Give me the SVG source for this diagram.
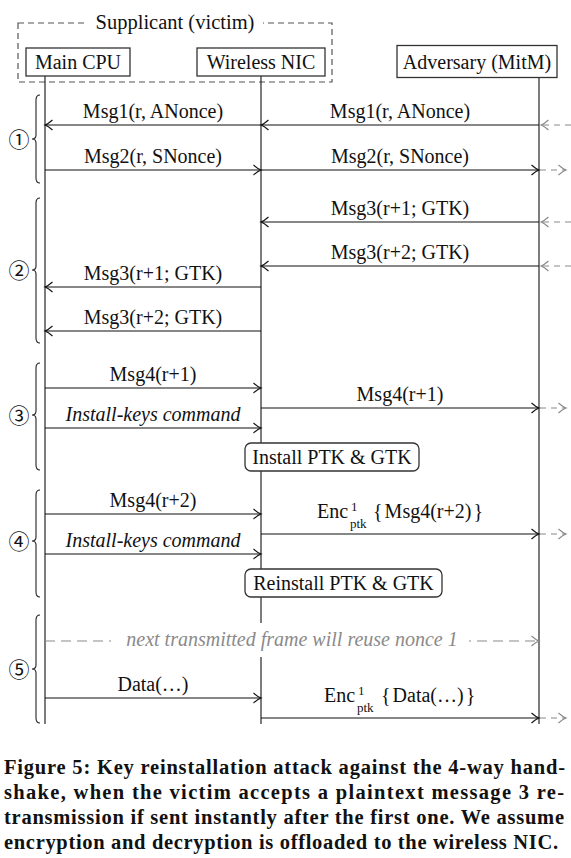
<svg xmlns="http://www.w3.org/2000/svg" width="571" height="858" viewBox="0 0 571 858">
<style>
text{font-family:"Liberation Serif","Times New Roman",serif;font-size:20px;fill:#111}
.c{text-anchor:middle}
.it{font-style:italic}
.box{fill:#fff;stroke:#333;stroke-width:1.3}
.life{stroke:#111;stroke-width:1.1;fill:none}
.msg{stroke:#111;stroke-width:1.1;fill:none;marker-end:url(#ah)}
.gmsg{stroke:#8a8a8a;stroke-width:1.1;fill:none;stroke-dasharray:6 5;marker-end:url(#gh)}
.brace{fill:none;stroke:#222;stroke-width:1.1}
.num{font-family:"Noto Sans CJK JP","DejaVu Sans",sans-serif;font-size:21px;text-anchor:middle}
.cap{font-weight:bold;font-size:20.5px}
.sm{font-size:13px}
</style>
<defs>
<marker id="ah" markerWidth="12" markerHeight="12" refX="10" refY="6" orient="auto" markerUnits="userSpaceOnUse" overflow="visible"><path d="M2.5 1 Q7 5 10 6 Q7 7 2.5 11" fill="none" stroke="#111" stroke-width="1.1"/></marker>
<marker id="gh" markerWidth="12" markerHeight="12" refX="10" refY="6" orient="auto" markerUnits="userSpaceOnUse" overflow="visible"><path d="M2.5 1 Q7 5 10 6 Q7 7 2.5 11" fill="none" stroke="#8a8a8a" stroke-width="1.1"/></marker>
</defs>
<rect width="571" height="858" fill="#fff"/>

<g id="supplicant">
<rect x="18" y="23" width="314" height="59" fill="none" stroke="#555" stroke-width="1.2" stroke-dasharray="6 4"/>
<rect x="88" y="10" width="175" height="24" fill="#fff"/>
<text class="c" x="175" y="29" style="font-size:20.5px">Supplicant (victim)</text>
</g>

<g id="lifelines">
<line class="life" x1="45" y1="76" x2="45" y2="724"/>
<line class="life" x1="261" y1="76" x2="261" y2="724"/>
<line class="life" x1="539" y1="78" x2="539" y2="724"/>
</g>

<g id="main-cpu"><rect class="box" x="26" y="48" width="104" height="28"/><text class="c" x="78" y="69">Main CPU</text></g>
<g id="wireless-nic"><rect class="box" x="197" y="48" width="128" height="28"/><text class="c" x="261" y="69">Wireless NIC</text></g>
<g id="adversary"><rect class="box" x="397" y="45.5" width="160" height="32"/><text class="c" x="477" y="69">Adversary (MitM)</text></g>

<g id="connectors">
<line class="gmsg" x1="571" y1="125" x2="541" y2="125"/>
<line class="msg" x1="539" y1="125" x2="261" y2="125"/>
<line class="msg" x1="261" y1="125" x2="45" y2="125"/>
<line class="msg" x1="45" y1="170" x2="261" y2="170"/>
<line class="msg" x1="261" y1="170" x2="539" y2="170"/>
<line class="gmsg" x1="540" y1="170" x2="566" y2="170"/>
<line class="gmsg" x1="571" y1="222" x2="541" y2="222"/>
<line class="msg" x1="539" y1="222" x2="261" y2="222"/>
<line class="gmsg" x1="571" y1="266" x2="541" y2="266"/>
<line class="msg" x1="539" y1="266" x2="261" y2="266"/>
<line class="msg" x1="261" y1="287" x2="45" y2="287"/>
<line class="msg" x1="261" y1="331" x2="45" y2="331"/>
<line class="msg" x1="45" y1="388" x2="261" y2="388"/>
<line class="msg" x1="261" y1="408" x2="539" y2="408"/>
<line class="gmsg" x1="540" y1="408" x2="566" y2="408"/>
<line class="msg" x1="45" y1="428" x2="261" y2="428"/>
<line class="msg" x1="45" y1="514" x2="261" y2="514"/>
<line class="msg" x1="261" y1="534" x2="539" y2="534"/>
<line class="gmsg" x1="540" y1="534" x2="566" y2="534"/>
<line class="msg" x1="45" y1="554" x2="261" y2="554"/>
<line class="gmsg" style="stroke-dasharray:10 6" x1="45" y1="641" x2="539" y2="641"/>
<line class="msg" x1="45" y1="698" x2="261" y2="698"/>
<line class="msg" x1="261" y1="718" x2="539" y2="718"/>
<line class="gmsg" x1="540" y1="718" x2="566" y2="718"/>
</g>

<g id="labels">
<text class="c" x="153" y="118">Msg1(r, ANonce)</text>
<text class="c" x="400" y="118">Msg1(r, ANonce)</text>
<text class="c" x="153" y="163">Msg2(r, SNonce)</text>
<text class="c" x="400" y="163">Msg2(r, SNonce)</text>
<text class="c" x="400" y="215">Msg3(r+1; GTK)</text>
<text class="c" x="400" y="259">Msg3(r+2; GTK)</text>
<text class="c" x="153" y="280">Msg3(r+1; GTK)</text>
<text class="c" x="153" y="324">Msg3(r+2; GTK)</text>
<text class="c" x="153" y="381">Msg4(r+1)</text>
<text class="c" x="400" y="401">Msg4(r+1)</text>
<text class="c it" x="153" y="421">Install-keys command</text>
<text class="c" x="153" y="507">Msg4(r+2)</text>
<text x="317" y="518">Enc</text>
<text class="sm" x="351" y="511">1</text>
<text class="sm" x="350" y="528">ptk</text>
<text x="373" y="518" word-spacing="-3">{ Msg4(r+2) }</text>
<text class="c it" x="153" y="547">Install-keys command</text>
<text class="c" x="153" y="691">Data(…)</text>
<text x="324" y="702">Enc</text>
<text class="sm" x="358" y="695">1</text>
<text class="sm" x="357" y="712">ptk</text>
<text x="381" y="702" word-spacing="-3">{ Data(…) }</text>
</g>

<g id="install-box"><rect class="box" x="245" y="443" width="174" height="28" rx="6"/><text class="c" x="332" y="464">Install PTK &amp; GTK</text></g>
<g id="reinstall-box"><rect class="box" x="245" y="569" width="197" height="28" rx="6"/><text class="c" x="343.5" y="590">Reinstall PTK &amp; GTK</text></g>

<g id="nonce-note">
<rect x="111" y="623" width="358" height="34" fill="#fff"/>
<text class="c it" x="292" y="646" style="fill:#8a8a8a">next transmitted frame will reuse nonce 1</text>
</g>

<g id="stages">
<path class="brace" d="M40 95 Q36 95 36 100 L36 135 Q36 139 32 139 Q36 139 36 143 L36 178 Q36 183 40 183"/>
<text class="num" x="19" y="146.5">①</text>
<path class="brace" d="M40 198 Q36 198 36 203 L36 266 Q36 270 32 270 Q36 270 36 274 L36 338 Q36 343 40 343"/>
<text class="num" x="19" y="277.5">②</text>
<path class="brace" d="M40 363 Q36 363 36 368 L36 411 Q36 415 32 415 Q36 415 36 419 L36 465 Q36 470 40 470"/>
<text class="num" x="19" y="422.5">③</text>
<path class="brace" d="M40 490 Q36 490 36 495 L36 537 Q36 541 32 541 Q36 541 36 545 L36 592 Q36 597 40 597"/>
<text class="num" x="19" y="548.5">④</text>
<path class="brace" d="M40 615 Q36 615 36 620 L36 665 Q36 669 32 669 Q36 669 36 673 L36 718 Q36 723 40 723"/>
<text class="num" x="19" y="676.5">⑤</text>
</g>

<g id="caption">
<text class="cap" x="4" y="774" textLength="561" lengthAdjust="spacing">Figure 5: Key reinstallation attack against the 4-way hand-</text>
<text class="cap" x="4" y="799" textLength="560" lengthAdjust="spacing">shake, when the victim accepts a plaintext message 3 re-</text>
<text class="cap" x="4" y="824" textLength="560" lengthAdjust="spacing">transmission if sent instantly after the first one. We assume</text>
<text class="cap" x="4" y="849" textLength="554" lengthAdjust="spacing">encryption and decryption is offloaded to the wireless NIC.</text>
</g>
</svg>
